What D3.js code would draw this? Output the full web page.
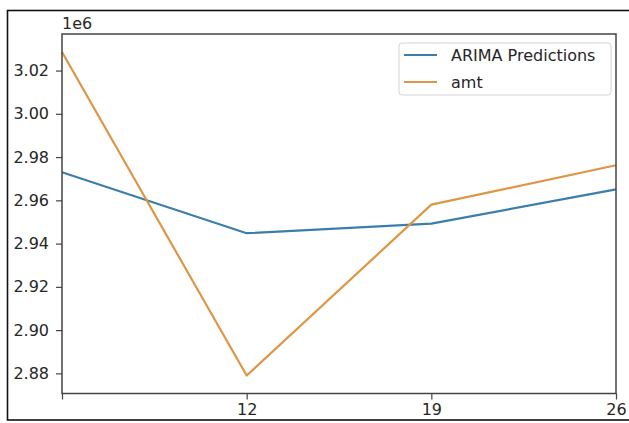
<!DOCTYPE html>
<html>
<head>
<meta charset="utf-8">
<script src="https://cdn.jsdelivr.net/npm/d3@7"></script>
<style>
  html, body { margin: 0; padding: 0; background: #fff; }
  svg { display: block; }
  text { font-family: "DejaVu Sans", sans-serif; fill: #262626; }
</style>
</head>
<body>
<svg id="chart" width="629" height="423"></svg>
<script>
// Period index and the two series (values in units of 1e6)
const periods = [5, 12, 19, 26];
const arimaPredictions = [2.9730, 2.9448, 2.9492, 2.9651];
const amt = [3.0286, 2.8790, 2.9580, 2.9762];

// Axis ticks
const xTicks = [5, 12, 19, 26];
const xTickLabels = ["", "12", "19", "26"];
const yTicks = [2.88, 2.90, 2.92, 2.94, 2.96, 2.98, 3.00, 3.02];
const yDomain = [2.8707, 3.0369];

const seriesNames = ["ARIMA Predictions", "amt"];
const seriesColors = ["#3a7fa9", "#de9645"];

const svg = d3.select("#chart");
const W = 629, H = 423;
const m = { left: 62, right: 13, top: 34, bottom: 29.5 };
const FS = 16;

svg.append("rect").attr("x", 0).attr("y", 0).attr("width", W).attr("height", H).attr("fill", "#fff");
// outer frame
svg.append("rect")
  .attr("x", 7.5).attr("y", 10.5).attr("width", 630).attr("height", 409.5)
  .attr("fill", "none").attr("stroke", "#111").attr("stroke-width", 1.6);

const x = d3.scaleLinear().domain([periods[0], periods[periods.length - 1]]).range([m.left, W - m.right]);
const y = d3.scaleLinear().domain(yDomain).range([H - m.bottom, m.top]);

// series lines
const series = [
  periods.map((p, i) => [p, arimaPredictions[i]]),
  periods.map((p, i) => [p, amt[i]])
];
const line = d3.line().x(d => x(d[0])).y(d => y(d[1]));
series.forEach((s, i) => {
  svg.append("path")
    .datum(s)
    .attr("d", line)
    .attr("fill", "none")
    .attr("stroke", seriesColors[i])
    .attr("stroke-width", 2.2)
    .attr("stroke-linejoin", "round");
});

// axes
const xAxis = d3.axisBottom(x).tickValues(xTicks)
  .tickFormat((d, i) => xTickLabels[i]).tickSize(6).tickPadding(4);
const yAxis = d3.axisLeft(y).tickValues(yTicks)
  .tickFormat(d3.format(".2f")).tickSize(6).tickPadding(7);

const gx = svg.append("g").attr("transform", `translate(0,${H - m.bottom})`).call(xAxis);
const gy = svg.append("g").attr("transform", `translate(${m.left},0)`).call(yAxis);
[gx, gy].forEach(g => {
  g.select(".domain").remove();
  g.selectAll(".tick line").attr("stroke", "#444").attr("stroke-width", 1.2);
  g.selectAll(".tick text").attr("font-size", FS).attr("font-family", "DejaVu Sans, sans-serif").attr("fill", "#262626");
});

// axes box
svg.append("rect")
  .attr("x", m.left).attr("y", m.top)
  .attr("width", W - m.right - m.left).attr("height", H - m.bottom - m.top)
  .attr("fill", "none").attr("stroke", "#444").attr("stroke-width", 1.5);

// offset text
svg.append("text").attr("x", m.left).attr("y", 29).attr("font-size", FS).text("1e6");

// legend
const lg = svg.append("g").attr("transform", "translate(399,43)");
lg.append("rect").attr("x", 0).attr("y", 0).attr("width", 212).attr("height", 52).attr("rx", 3)
  .attr("fill", "#fff").attr("stroke", "#d4d4d4").attr("stroke-width", 1);
seriesNames.forEach((name, i) => {
  const cy = 12 + i * 27;
  lg.append("line").attr("x1", 5).attr("x2", 38).attr("y1", cy).attr("y2", cy)
    .attr("stroke", seriesColors[i]).attr("stroke-width", 2.2);
  lg.append("text").attr("x", 52).attr("y", cy + 6).attr("font-size", FS).text(name);
});
</script>
</body>
</html>
